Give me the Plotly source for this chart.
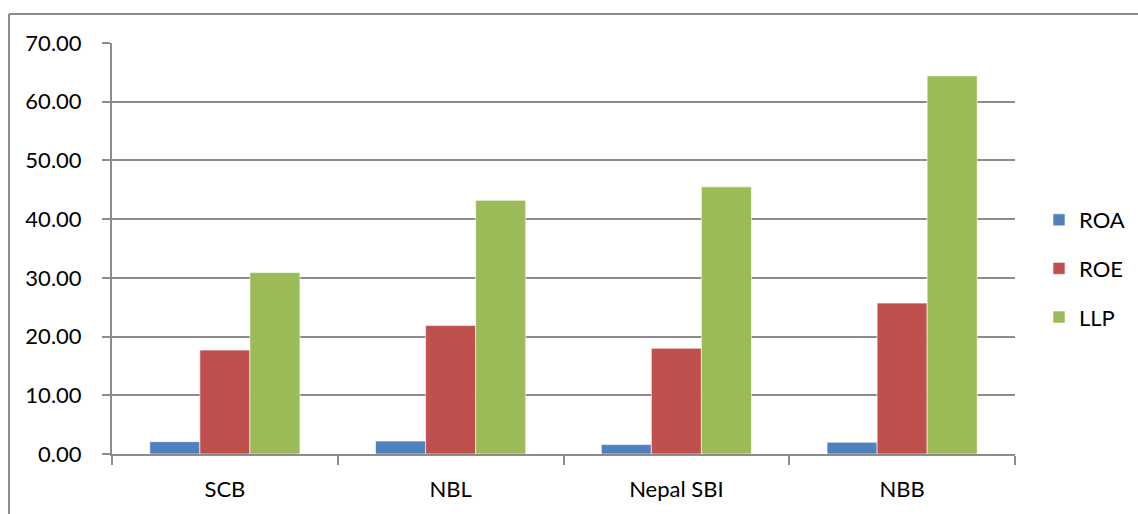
import plotly.graph_objects as go

categories = ["SCB", "NBL", "Nepal SBI", "NBB"]
roa = [2.1, 2.2, 1.6, 2.0]
roe = [17.7, 21.9, 18.0, 25.7]
llp = [30.9, 43.2, 45.5, 64.4]
y_ticks = [0, 10, 20, 30, 40, 50, 60, 70]

FONT = "Lato"
GRID = "#8c8c8c"
FS = 22

fig = go.Figure()
series = [("ROA", roa, "#4f81bd"), ("ROE", roe, "#c0504d"), ("LLP", llp, "#9bbb59")]
for name, vals, col in series:
    fig.add_trace(go.Bar(
        x=categories, y=vals, name=name, legendgroup=name,
        marker=dict(color=col, line=dict(color="white", width=0.6)),
    ))

L, R, T, B = 112, 123, 43, 60
W, H = 1138, 514
pw, ph = W - L - R, H - T - B

def px_x(p):
    return (p - L) / pw

def px_y(p):
    return (H - B - p) / ph

fig.update_layout(
    width=W, height=H,
    margin=dict(l=L, r=R, t=T, b=B, pad=0, autoexpand=False),
    paper_bgcolor="white", plot_bgcolor="white",
    barmode="group", bargap=0.335, bargroupgap=0,
    font=dict(family=FONT, size=FS, color="black"),
    showlegend=True,
    legend=dict(
        x=px_x(1039), y=px_y(199), xanchor="left", yanchor="top",
        font=dict(family=FONT, size=FS, color="black"),
        traceorder="grouped", tracegroupgap=17,
        bgcolor="rgba(0,0,0,0)", itemwidth=30,
    ),
    xaxis=dict(
        showgrid=False, showline=True, linecolor=GRID, linewidth=2,
        ticks="outside", tickson="boundaries", ticklen=9, tickwidth=2,
        tickcolor=GRID, tickfont=dict(family=FONT, size=FS),
        ticklabelstandoff=15,
    ),
    yaxis=dict(
        range=[0, 70], tickvals=y_ticks, tickformat=".2f",
        showgrid=True, gridcolor=GRID, gridwidth=2,
        showline=True, linecolor=GRID, linewidth=2,
        ticks="outside", ticklen=8, tickwidth=2, tickcolor=GRID,
        tickfont=dict(family=FONT, size=FS), zeroline=False,
        ticklabelstandoff=16,
    ),
    shapes=[
        dict(type="line", xref="paper", yref="paper",
             x0=px_x(9), x1=px_x(9), y0=px_y(14), y1=px_y(520),
             line=dict(color="#8c8c8c", width=2)),
        dict(type="line", xref="paper", yref="paper",
             x0=px_x(9), x1=px_x(1145), y0=px_y(14), y1=px_y(14),
             line=dict(color="#8c8c8c", width=2)),
    ],
)

fig.write_html("out.html")
